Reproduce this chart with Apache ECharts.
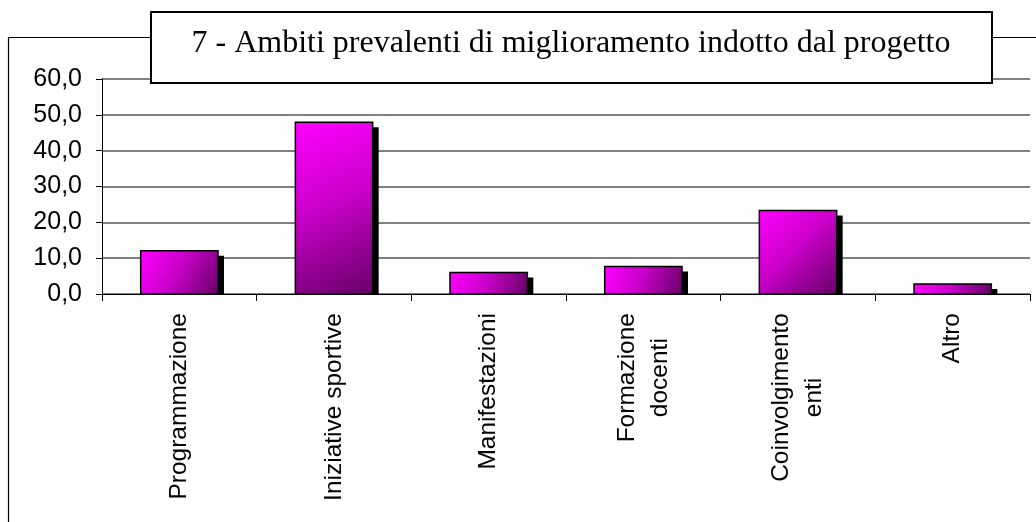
<!DOCTYPE html>
<html>
<head>
<meta charset="utf-8">
<script src="https://cdn.jsdelivr.net/npm/echarts@6/dist/echarts.min.js"></script>
<style>
  html, body { margin: 0; padding: 0; background: #fff; }
  #chart { width: 1036px; height: 522px; }
</style>
</head>
<body>
<div id="chart"></div>
<script>
const categories = ['Programmazione', 'Iniziative sportive', 'Manifestazioni', 'Formazione\ndocenti', 'Coinvolgimento\nenti', 'Altro']
const values = [12.1, 47.9, 6.0, 7.7, 23.3, 2.8]
const yTicks = [0, 10, 20, 30, 40, 50, 60]

const chart = echarts.init(document.getElementById('chart'), null, { renderer: 'canvas' })

// bar with a hard drop shadow on the right, clipped at the baseline
function renderBar(params, api) {
  const top = api.coord([api.value(0), api.value(1)])
  const base = api.coord([api.value(0), 0])
  const bw = api.size([1, 0])[0] * 0.5
  const x = top[0] - bw / 2
  const h = base[1] - top[1]
  return {
    type: 'group',
    children: [
      {
        type: 'rect',
        shape: { x: x + 6, y: top[1] + 5, width: bw, height: Math.max(h - 5, 0) },
        style: { fill: '#000' },
      },
      {
        type: 'rect',
        shape: { x: x, y: top[1], width: bw, height: h },
        style: {
          fill: new echarts.graphic.LinearGradient(0, 0, 1, 1, [
            { offset: 0, color: '#ff00ff' },
            { offset: 0.45, color: '#cc00cc' },
            { offset: 1, color: '#660066' },
          ]),
          stroke: '#000',
          lineWidth: 1.5,
        },
      },
    ],
  }
}

chart.setOption({
  backgroundColor: '#fff',
  animation: false,
  graphic: [
    {
      type: 'rect',
      z: 0,
      shape: { x: 8.5, y: 37.5, width: 1100, height: 600 },
      style: { fill: '#fff', stroke: '#000', lineWidth: 1.2 },
    },
    {
      type: 'rect',
      z: 10,
      shape: { x: 151, y: 12, width: 841, height: 71 },
      style: { fill: '#fff', stroke: '#000', lineWidth: 2 },
    },
  ],
  title: {
    text: '7 - Ambiti prevalenti di miglioramento indotto dal progetto',
    left: 566,
    top: 23,
    textAlign: 'center',
    z: 12,
    textStyle: {
      fontFamily: 'Liberation Serif',
      fontSize: 32,
      fontWeight: 'normal',
      color: '#000',
    },
  },
  grid: { left: 102, right: 6, top: 79, bottom: 228, containLabel: false },
  xAxis: {
    type: 'category',
    data: categories,
    axisLine: { lineStyle: { color: '#000', width: 1 } },
    axisTick: { show: true, length: 7, lineStyle: { color: '#000' } },
    axisLabel: {
      rotate: 90,
      interval: 0,
      margin: 19,
      formatter: (v) => v.split('\n').map((s) => '{c|' + s + '}').join('\n'),
      rich: {
        c: {
          fontFamily: 'Liberation Sans',
          fontSize: 24.5,
          color: '#000',
          align: 'center',
          lineHeight: 33,
        },
      },
    },
  },
  yAxis: {
    type: 'value',
    min: 0,
    max: 60,
    interval: 10,
    axisLine: { show: true, lineStyle: { color: '#000', width: 1 } },
    axisTick: { show: true, length: 6, lineStyle: { color: '#000' } },
    splitLine: { lineStyle: { color: '#808080', width: 2 } },
    axisLabel: {
      margin: 20,
      fontFamily: 'Liberation Sans',
      fontSize: 25,
      color: '#000',
      formatter: (v) => (yTicks.indexOf(v) >= 0 ? v.toFixed(1).replace('.', ',') : ''),
    },
  },
  series: [
    {
      type: 'custom',
      renderItem: renderBar,
      encode: { x: 0, y: 1 },
      data: categories.map((c, i) => [i, values[i]]),
      z: 5,
    },
  ],
})
</script>
</body>
</html>
